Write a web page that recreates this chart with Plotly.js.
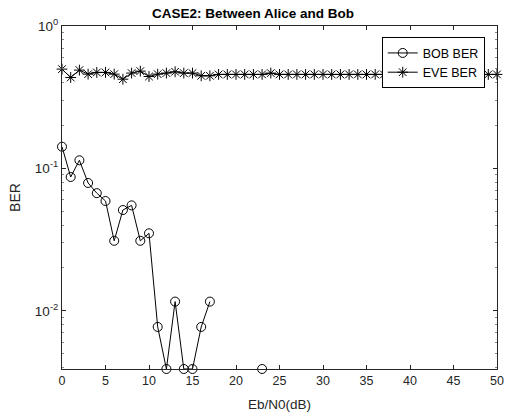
<!DOCTYPE html>
<html>
<head>
<meta charset="utf-8">
<script src="https://cdn.plot.ly/plotly-3.0.1.min.js"></script>
<style>html,body{margin:0;padding:0;background:#fff;}#chart{width:506px;height:420px;}</style>
</head>
<body>
<div id="chart"></div>
<script>
const ebn0 = Array.from({length: 51}, (_, i) => i);
// BOB BER (null = zero BER, not shown on log axis)
const bobBER = [0.142, 0.087, 0.114, 0.079, 0.067, 0.059, 0.031, 0.051, 0.055, 0.031,
  0.035, 0.0077, 0.0039, 0.0116, 0.0039, 0.0039, 0.0077, 0.0116, null, null,
  null, null, null, 0.0039, null, null, null, null, null, null,
  null, null, null, null, null, null, null, null, null, null,
  null, null, null, null, null, null, null, null, null, null, null];
const eveBER = [0.498, 0.435, 0.490, 0.459, 0.472, 0.472, 0.459, 0.423, 0.467, 0.482,
  0.442, 0.459, 0.467, 0.477, 0.467, 0.467, 0.447, 0.447, 0.457, 0.457,
  0.457, 0.457, 0.457, 0.457, 0.467, 0.457, 0.457, 0.457, 0.457, 0.457,
  0.457, 0.457, 0.457, 0.457, 0.457, 0.457, 0.457, 0.457, 0.457, 0.457,
  0.457, 0.457, 0.457, 0.457, 0.457, 0.457, 0.457, 0.457, 0.457, 0.457, 0.457];
const xTicks = [0, 5, 10, 15, 20, 25, 30, 35, 40, 45, 50];
const yTicks = [1, 0.1, 0.01];
const yTickText = ['10<sup>0</sup>', '10<sup>-1</sup>', '10<sup>-2</sup>'];
const yMinor = [0.2,0.3,0.4,0.5,0.6,0.7,0.8,0.9,0.02,0.03,0.04,0.05,0.06,0.07,0.08,0.09,0.004,0.005,0.006,0.007,0.008,0.009];
const yMin = 0.0039;

const traces = [
  {x: ebn0, y: bobBER, name: 'BOB BER', mode: 'lines+markers', type: 'scatter',
   line: {color: '#000', width: 1}, cliponaxis: false, connectgaps: false,
   marker: {symbol: 'circle-open', size: 9, color: '#000', line: {width: 1, color: '#000'}}},
  {x: ebn0, y: eveBER, name: 'EVE BER', mode: 'lines+markers', type: 'scatter',
   line: {color: '#000', width: 1}, cliponaxis: false,
   marker: {symbol: 'asterisk-open', size: 9, color: '#000', line: {width: 1, color: '#000'}}}
];

const layout = {
  width: 506, height: 420,
  margin: {l: 62, r: 9, t: 26, b: 51},
  paper_bgcolor: '#fff', plot_bgcolor: '#fff',
  font: {family: 'Liberation Sans, Arial, sans-serif', size: 12.5, color: '#262626'},
  title: {text: '<b>CASE2: Between Alice and Bob</b>', font: {size: 13.5, color: '#000'}, x: 0.5, xanchor: 'center', y: 0.969, yanchor: 'middle'},
  showlegend: true,
  legend: {x: 0.735, y: 0.967, xanchor: 'left', yanchor: 'top', bgcolor: '#fff', bordercolor: '#000', borderwidth: 1,
    font: {size: 12.5, color: '#000'}, tracegroupgap: 0, itemwidth: 30},
  xaxis: {range: [0, 50], tickmode: 'array', tickvals: xTicks, ticks: 'inside', ticklen: 4, tickcolor: '#262626',
    showline: true, linecolor: '#262626', linewidth: 1, mirror: 'ticks', showgrid: false, zeroline: false,
    title: {text: 'Eb/N0(dB)', font: {size: 13.5, color: '#262626'}, standoff: 12}},
  yaxis: {type: 'log', range: [Math.log10(yMin), 0], tickmode: 'array', tickvals: yTicks, ticktext: yTickText,
    ticks: 'inside', ticklen: 4, tickcolor: '#262626', showline: true, linecolor: '#262626', linewidth: 1, mirror: 'ticks',
    showgrid: false, zeroline: false, tickfont: {size: 13.5},
    minor: {tickmode: 'array', tickvals: yMinor, ticks: 'inside', ticklen: 2, tickcolor: '#888', showgrid: false},
    title: {text: 'BER', font: {size: 14, color: '#262626'}, standoff: 10}}
};

Plotly.newPlot('chart', traces, layout, {displayModeBar: false, staticPlot: true});
</script>
</body>
</html>
